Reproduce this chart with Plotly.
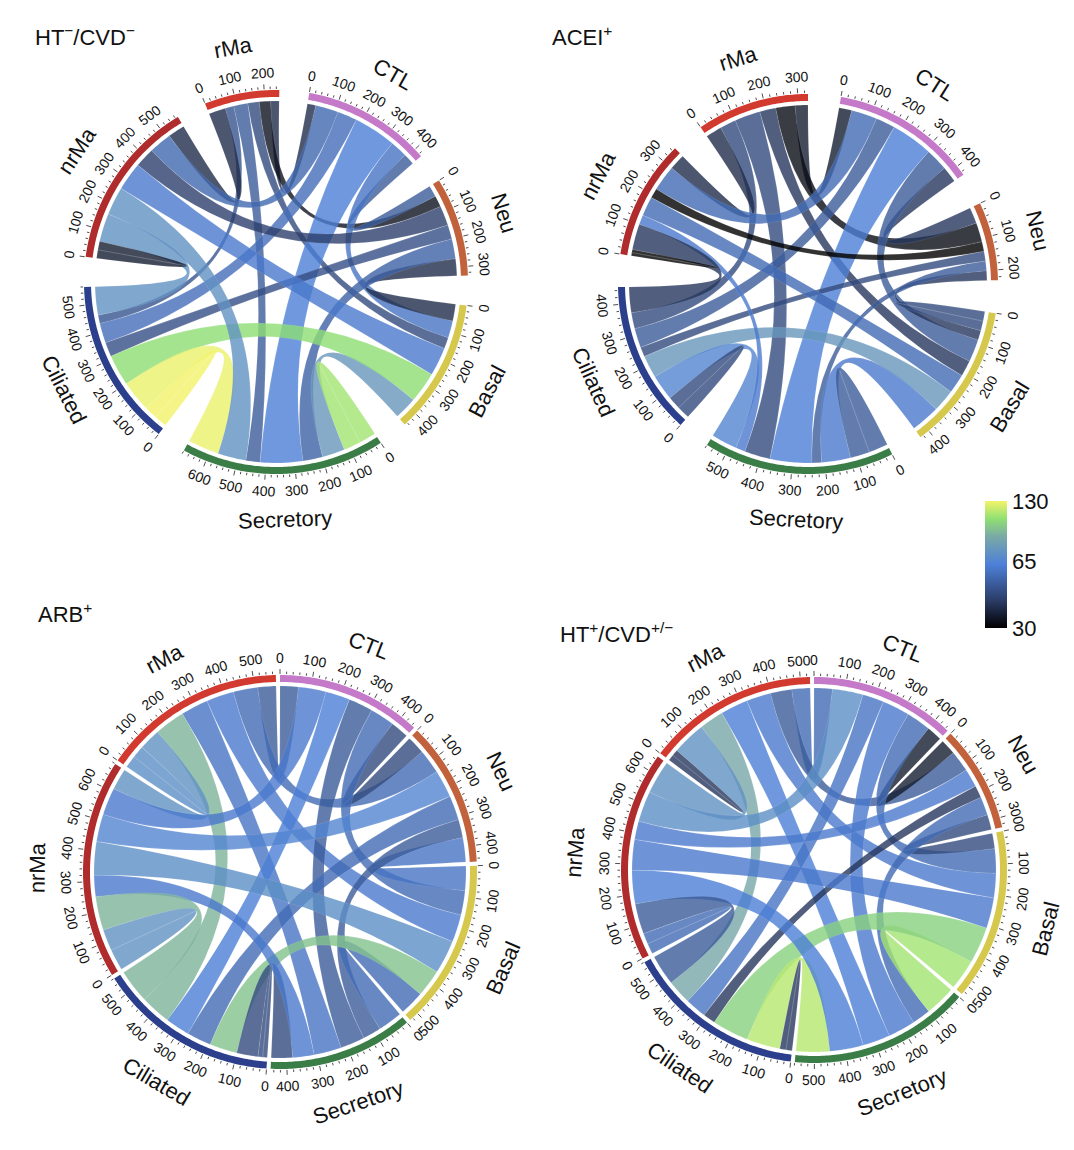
import numpy as np
import plotly.graph_objects as go
from plotly.colors import sample_colorscale

sectors = ["rMa", "CTL", "Neu", "Basal", "Secretory", "Ciliated", "nrMa"]
sector_colors = ["#d23a30", "#c47ac8", "#c2623c", "#d6c84c", "#3b7d46", "#2b3f8c", "#b02b2b"]
# draw order clockwise starting at CTL
draw_order = [1, 2, 3, 4, 5, 6, 0]

titles = ["HT<sup>−</sup>/CVD<sup>−</sup>", "ACEI<sup>+</sup>", "ARB<sup>+</sup>", "HT<sup>+</sup>/CVD<sup>+/−</sup>"]

# links per panel: source, target, width, colour value
p1_src = [0,0,0,0,0,0, 1,1,1,1,1, 2,2,2,2, 3,3,3, 4,4,4, 5,5, 6]
p1_tgt = [1,2,3,4,5,6, 2,3,4,5,6, 3,4,5,6, 4,5,6, 5,4,6, 6,5, 6]
p1_w   = [30,40,40,50,30,60, 40,60,150,70,80, 60,70,50,70, 80,110,100, 110,60,100, 100,45, 30]
p1_c   = [38,33,45,50,48,38, 50,58,62,56,54, 38,52,46,42, 75,105,60, 128,110,72, 72,130, 35]

p2_src = [0,0,0,0,0,0, 1,1,1,1,1, 2,2,2,2, 3,3,3,3, 4,4,4, 5,5, 6]
p2_tgt = [1,2,3,4,5,6, 2,3,4,5,6, 3,4,5,6, 4,5,6,3, 5,4,6, 6,5, 6]
p2_w   = [40,60,50,80,50,50, 50,70,130,60,80, 30,30,30,30, 90,70,60,30, 80,60,30, 80,40, 10]
p2_c   = [35,32,40,45,45,38, 40,50,62,50,55, 40,50,45,30, 60,75,55,45, 65,50,60, 40,45, 30]

p3_src = [0,0,0,0,0,0,0, 1,1,1,1,1, 2,2,2,2, 3,3,3, 4,4, 5,5, 6]
p3_tgt = [1,2,3,4,5,6,0, 2,3,4,5,6, 3,4,5,6, 4,5,6, 5,6, 6,5, 6]
p3_w   = [60,80,90,90,100,70,40, 60,80,80,80,90, 80,60,80,90, 80,90,110, 70,70, 110,15, 70]
p3_c   = [50,55,60,58,90,72,70, 45,55,50,62,60, 58,50,55,65, 55,95,70, 45,60, 90,45, 72]

p4_src = [0,0,0,0,0,0,0, 1,1,1,1,1, 2,2,2,2, 3,3,3, 4,4, 5,5, 6]
p4_tgt = [1,2,3,4,5,6,0, 2,3,4,5,6, 3,4,5,6, 4,5,6, 5,6, 6,5, 6]
p4_w   = [60,70,80,90,80,110,20, 50,80,90,70,100, 50,60,40,60, 100,120,100, 110,110, 100,20, 35]
p4_c   = [55,50,60,62,85,72,40, 35,55,60,58,70, 45,55,40,60, 110,100,60, 115,62, 50,40, 55]

panels = [
    dict(src=p1_src, tgt=p1_tgt, w=p1_w, c=p1_c, cx=268, cy=274, R=192, gap=9.0, start=80, title_xy=(25, 28)),
    dict(src=p2_src, tgt=p2_tgt, w=p2_w, c=p2_c, cx=800, cy=276, R=190, gap=10.0, start=80, title_xy=(542, 28)),
    dict(src=p3_src, tgt=p3_tgt, w=p3_w, c=p3_c, cx=272, cy=864, R=197, gap=1.2, start=90, title_xy=(28, 605)),
    dict(src=p4_src, tgt=p4_tgt, w=p4_w, c=p4_c, cx=806, cy=862, R=193, gap=1.2, start=90, title_xy=(550, 625)),
]

cscale = [[0.0, "#000000"], [0.22, "#2b3d68"], [0.5, "#4d80d8"], [0.72, "#7aa9a6"],
          [0.86, "#8fe072"], [1.0, "#f3f36a"]]
lmin, lmax = np.log10(30), np.log10(130)

def colour(v):
    f = (np.log10(v) - lmin) / (lmax - lmin)
    return sample_colorscale(cscale, [float(np.clip(f, 0, 1))])[0]

fig = go.Figure()
shapes, annots = [], []

def pt(cx, cy, r, deg):
    a = np.radians(deg)
    return cx + r * np.cos(a), cy - r * np.sin(a)

def arc_pts(cx, cy, r, a1, a2, n=None):
    n = n or max(4, int(abs(a2 - a1) * 1.5))
    return [pt(cx, cy, r, a) for a in np.linspace(a1, a2, n)]

def upright(a):
    ta = 90 - a
    ta = (ta + 180) % 360 - 180
    if ta > 90: ta -= 180
    if ta < -90: ta += 180
    return ta

for P in panels:
    cx, cy, R = P["cx"], P["cy"], P["R"]
    n = len(sectors)
    ends = {i: [] for i in range(n)}
    for k, (s, t, w) in enumerate(zip(P["src"], P["tgt"], P["w"])):
        ends[s].append((k, t, w, 0))
        ends[t].append((k, s, w, 1))
    totals = [sum(e[2] for e in ends[i]) for i in range(n)]
    scale = (360 - n * P["gap"]) / sum(totals)
    sec_start = {}
    ang = P["start"]
    for i in draw_order:
        sec_start[i] = ang
        ang -= totals[i] * scale + P["gap"]
    pos = {}
    for i in range(n):
        lst = sorted(ends[i], key=lambda e: (((i - e[1]) % n), e[0], e[3]))
        a = sec_start[i]
        for (k, j, w, side) in lst:
            pos[(k, side)] = (a, a - w * scale)
            a -= w * scale
    rin = R - 11
    for k in range(len(P["w"])):
        a1, a2 = pos[(k, 0)]
        b1, b2 = pos[(k, 1)]
        pts1 = arc_pts(cx, cy, rin, a1, a2)
        pts2 = arc_pts(cx, cy, rin, b1, b2)
        d = "M %.2f %.2f " % pts1[0]
        d += " ".join("L %.2f %.2f" % p for p in pts1[1:])
        d += " Q %.2f %.2f %.2f %.2f " % (cx, cy, *pts2[0])
        d += " ".join("L %.2f %.2f" % p for p in pts2[1:])
        d += " Q %.2f %.2f %.2f %.2f Z" % (cx, cy, *pts1[0])
        shapes.append(dict(type="path", path=d, xref="x", yref="y",
                           fillcolor=colour(P["c"][k]), opacity=0.8,
                           line=dict(width=0.4, color="rgba(255,255,255,0.3)"), layer="above"))
    tx, ty = [], []
    for i in range(n):
        s0 = sec_start[i]
        s1 = s0 - totals[i] * scale
        outer = arc_pts(cx, cy, R, s0, s1)
        inner = arc_pts(cx, cy, R - 7, s1, s0)
        d = "M %.2f %.2f " % outer[0] + " ".join("L %.2f %.2f" % p for p in outer[1:] + inner) + " Z"
        shapes.append(dict(type="path", path=d, xref="x", yref="y",
                           fillcolor=sector_colors[i], line=dict(width=0), layer="above"))
        for v in range(0, int(totals[i]) + 1, 20):
            a = s0 - v * scale
            major = v % 100 == 0
            p0 = pt(cx, cy, R + 1, a)
            p1 = pt(cx, cy, R + (6 if major else 3.5), a)
            tx += [p0[0], p1[0], None]
            ty += [p0[1], p1[1], None]
            if major:
                lx, ly = pt(cx, cy, R + 17, a)
                annots.append(dict(x=lx, y=ly, xref="x", yref="y", text=str(v), showarrow=False,
                                   textangle=upright(a), font=dict(size=14, color="#111")))
        mid = (s0 + s1) / 2
        lx, ly = pt(cx, cy, R + 46, mid)
        annots.append(dict(x=lx, y=ly, xref="x", yref="y", text=sectors[i], showarrow=False,
                           textangle=upright(mid), font=dict(size=22, color="#111")))
    fig.add_trace(go.Scatter(x=tx, y=ty, mode="lines", line=dict(color="#222", width=0.8),
                             hoverinfo="skip", showlegend=False))

for P, t in zip(panels, titles):
    annots.append(dict(x=P["title_xy"][0], y=P["title_xy"][1], xref="x", yref="y", text=t,
                       showarrow=False, xanchor="left", font=dict(size=22, color="#111")))

cb_vals = [30, 65, 130]
fig.add_trace(go.Scatter(x=[-100], y=[-100], mode="markers", showlegend=False, hoverinfo="skip",
                         marker=dict(color=[lmin], cmin=lmin, cmax=lmax, colorscale=cscale, showscale=True,
                                     colorbar=dict(x=0.9, xanchor="left", y=0.516, len=0.128, thickness=22,
                                                   outlinewidth=0, tickvals=[np.log10(v) for v in cb_vals],
                                                   ticktext=[str(v) for v in cb_vals], ticks="",
                                                   tickfont=dict(size=22, color="#111")))))

fig.update_layout(width=1074, height=1150, margin=dict(l=0, r=0, t=0, b=0),
                  plot_bgcolor="white", paper_bgcolor="white",
                  xaxis=dict(range=[0, 1074], visible=False, fixedrange=True),
                  yaxis=dict(range=[1150, 0], visible=False, fixedrange=True),
                  shapes=shapes, annotations=annots, font=dict(family="Liberation Sans"))
fig.write_html("out.html")
